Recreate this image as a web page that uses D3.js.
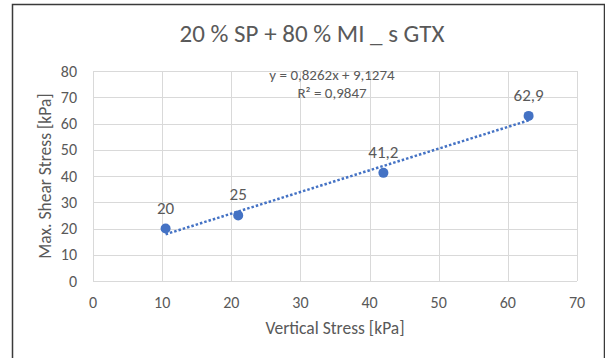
<!DOCTYPE html>
<html>
<head>
<meta charset="utf-8">
<script src="https://cdn.jsdelivr.net/npm/d3@7"></script>
<style>
  body { margin: 0; background: #fff; }
  text { font-family: Carlito, Lato, "Liberation Sans", sans-serif; fill: #595959; }
</style>
</head>
<body>
<div class="chart"></div>
<script>
var width = 605,
    height = 358;

// data
var verticalStress = [10.5, 21, 42, 63];
var shearStress = [20, 25, 41.2, 62.9];
var pointLabels = ["20", "25", "41,2", "62,9"];
var xTicks = [0, 10, 20, 30, 40, 50, 60, 70];
var yTicks = [0, 10, 20, 30, 40, 50, 60, 70, 80];
var slope = 0.8262, intercept = 9.1274;

var margin = {left: 93, right: 28, top: 71, bottom: 77};

var svg = d3.select(".chart").append("svg")
    .attr("width", width)
    .attr("height", height);

// chart frame
svg.append("path")
    .attr("d", "M12.5," + height + "V4.5H604.5V" + height)
    .attr("fill", "none")
    .attr("stroke", "#3a3a3a")
    .attr("stroke-width", 1.5);

var x = d3.scaleLinear().domain([0, 70]).range([margin.left, width - margin.right]);
var y = d3.scaleLinear().domain([0, 80]).range([height - margin.bottom, margin.top]);

// grid
svg.append("g").selectAll("line").data(yTicks).enter().append("line")
    .attr("x1", x(0)).attr("x2", x(70))
    .attr("y1", function(d){ return Math.round(y(d)) + 0.5 })
    .attr("y2", function(d){ return Math.round(y(d)) + 0.5 })
    .attr("stroke", "#d9d9d9");

svg.append("g").selectAll("line").data(xTicks).enter().append("line")
    .attr("y1", y(0)).attr("y2", y(80))
    .attr("x1", function(d){ return Math.round(x(d)) + 0.5 })
    .attr("x2", function(d){ return Math.round(x(d)) + 0.5 })
    .attr("stroke", "#d9d9d9");

// tick labels
svg.append("g").selectAll("text").data(yTicks).enter().append("text")
    .attr("x", x(0) - 16)
    .attr("y", function(d){ return y(d) })
    .attr("dy", "0.35em")
    .attr("text-anchor", "end")
    .attr("font-size", 16)
    .text(function(d){ return d });

svg.append("g").selectAll("text").data(xTicks).enter().append("text")
    .attr("x", function(d){ return x(d) })
    .attr("y", y(0) + 27)
    .attr("text-anchor", "middle")
    .attr("font-size", 16)
    .text(function(d){ return d });

// axis titles
svg.append("text")
    .attr("x", (x(0) + x(70)) / 2)
    .attr("y", 334)
    .attr("text-anchor", "middle")
    .attr("font-size", 17.5)
    .text("Vertical Stress [kPa]");

svg.append("text")
    .attr("transform", "translate(51," + ((y(0) + y(80)) / 2) + ") rotate(-90)")
    .attr("text-anchor", "middle")
    .attr("font-size", 17.5)
    .text("Max. Shear Stress [kPa]");

// title
svg.append("text")
    .attr("x", 312)
    .attr("y", 42)
    .attr("text-anchor", "middle")
    .attr("font-size", 25)
    .text("20 % SP + 80 % MI _ s GTX");

// trendline
var x0 = d3.min(verticalStress), x1 = d3.max(verticalStress);
svg.append("line")
    .attr("x1", x(x0)).attr("y1", y(slope * x0 + intercept))
    .attr("x2", x(x1)).attr("y2", y(slope * x1 + intercept))
    .attr("stroke", "#4472c4")
    .attr("stroke-width", 2.5)
    .attr("stroke-dasharray", "2.5,2");

// points
var pts = verticalStress.map(function(v, i){ return [v, shearStress[i], pointLabels[i]] });

svg.append("g").selectAll("circle").data(pts).enter().append("circle")
    .attr("cx", function(d){ return x(d[0]) })
    .attr("cy", function(d){ return y(d[1]) })
    .attr("r", 5)
    .attr("fill", "#4472c4");

svg.append("g").selectAll("text").data(pts).enter().append("text")
    .attr("x", function(d){ return x(d[0]) })
    .attr("y", function(d){ return y(d[1]) - 15 })
    .attr("text-anchor", "middle")
    .attr("font-size", 17)
    .attr("fill", "#404040")
    .text(function(d){ return d[2] });

// equation
svg.append("text")
    .attr("x", 332).attr("y", 80)
    .attr("text-anchor", "middle")
    .attr("font-size", 15)
    .attr("fill", "#404040")
    .text("y = 0,8262x + 9,1274");

svg.append("text")
    .attr("x", 332).attr("y", 98)
    .attr("text-anchor", "middle")
    .attr("font-size", 15)
    .attr("fill", "#404040")
    .text("R² = 0,9847");
</script>
</body>
</html>
